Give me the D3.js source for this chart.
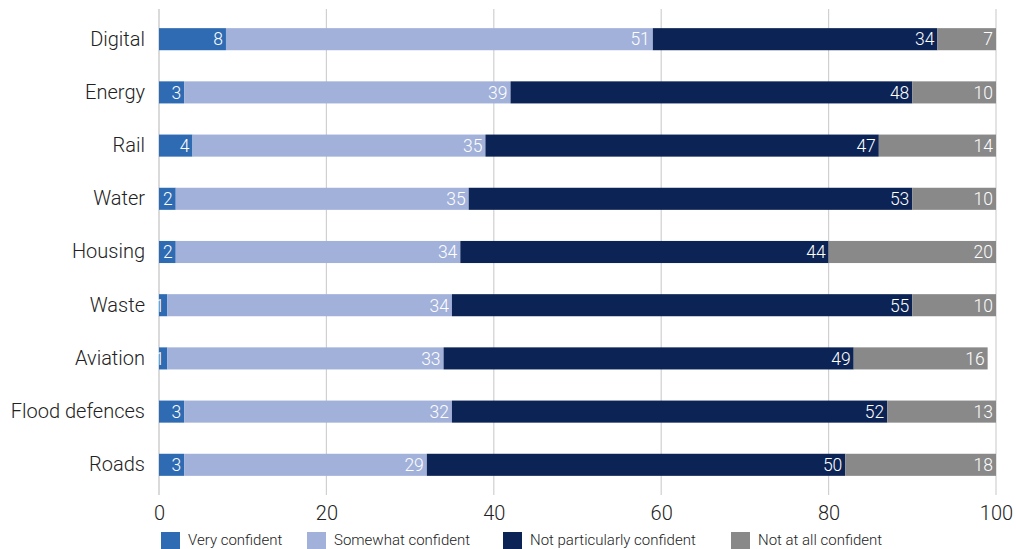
<!DOCTYPE html>
<html>
<head>
<meta charset="utf-8">
<script src="https://cdn.jsdelivr.net/npm/d3@7"></script>
<style>
  body { margin: 0; background: #fff; }
  svg { font-family: Roboto, "DejaVu Sans", sans-serif; font-weight: 300; }
</style>
</head>
<body>
<div id="chart"></div>
<script>
    'use strict';

    const categories = ['Digital', 'Energy', 'Rail', 'Water', 'Housing', 'Waste', 'Aviation', 'Flood defences', 'Roads'];
    const seriesNames = ['Very confident', 'Somewhat confident', 'Not particularly confident', 'Not at all confident'];
    const veryConfident = [8, 3, 4, 2, 2, 1, 1, 3, 3];
    const somewhatConfident = [51, 39, 35, 35, 34, 34, 33, 32, 29];
    const notParticularly = [34, 48, 47, 53, 44, 55, 49, 52, 50];
    const notAtAll = [7, 10, 14, 10, 20, 10, 16, 13, 18];
    const xTicks = [0, 20, 40, 60, 80, 100];
    const colors = ['#2e6bb3', '#a2b1da', '#0c2355', '#898989'];

    const W = 1016, H = 549;
    const margin = { top: 9, right: 20, bottom: 54, left: 159 };
    const width = W - margin.left - margin.right;
    const height = H - margin.top - margin.bottom;

    const rows = categories.map(function (c, i) {
        return { cat: c, 0: veryConfident[i], 1: somewhatConfident[i], 2: notParticularly[i], 3: notAtAll[i] };
    });
    const stack = d3.stack().keys([0, 1, 2, 3]);
    const layers = stack(rows);

    const xScale = d3.scaleLinear().domain([0, 100]).range([0, 837]);
    const yScale = d3.scaleBand().domain(categories).range([0, height]).paddingInner(0.585).paddingOuter(0.36);

    const svg = d3.select('#chart').append('svg').attr('width', W).attr('height', H)
        .append('g')
        .attr('transform', 'translate(' + margin.left + ',' + margin.top + ')');

    // gridlines
    svg.append('g').selectAll('line').data(xTicks).enter().append('line')
        .attr('x1', function (d) { return xScale(d); })
        .attr('x2', function (d) { return xScale(d); })
        .attr('y1', 0).attr('y2', height)
        .attr('stroke', function (d) { return d === 0 ? '#dadada' : '#d0d0d0'; })
        .attr('stroke-width', function (d) { return d === 0 ? 2 : 1.2; });

    const layerG = svg.selectAll('.layer').data(layers).enter().append('g')
        .attr('class', 'layer')
        .attr('fill', function (d, i) { return colors[i]; });

    layerG.selectAll('rect').data(function (d) { return d; }).enter().append('rect')
        .attr('x', function (d) { return xScale(d[0]); })
        .attr('y', function (d) { return yScale(d.data.cat); })
        .attr('width', function (d) { return xScale(d[1]) - xScale(d[0]); })
        .attr('height', yScale.bandwidth());

    layers.forEach(function (layer, li) {
        svg.append('g').selectAll('text').data(layer).enter().append('text')
            .attr('x', function (d) { return xScale(d[1]) - 3; })
            .attr('y', function (d) { return yScale(d.data.cat) + yScale.bandwidth() / 2; })
            .attr('dy', '0.36em')
            .attr('text-anchor', 'end')
            .attr('fill', '#fff')
            .style('font-size', '17.5px')
            .text(function (d) { return d.data[li]; });
    });

    // category labels
    const yAxis = d3.axisLeft(yScale).tickSize(0).tickPadding(14);
    const yg = svg.append('g').call(yAxis);
    yg.select('.domain').remove();
    yg.selectAll('text').style('font-size', '20px').attr('fill', '#222').style('font-family', 'Roboto, sans-serif');

    // x axis
    const xAxis = d3.axisBottom(xScale).tickValues(xTicks).tickSize(0).tickPadding(11);
    const xg = svg.append('g').attr('transform', 'translate(0,' + height + ')').call(xAxis);
    xg.select('.domain').remove();
    xg.selectAll('text').style('font-size', '20px').attr('fill', '#222').style('font-family', 'Roboto, sans-serif');

    // legend
    const legendX = [161, 307, 503, 731];
    const legend = d3.select('svg').append('g').selectAll('g').data(seriesNames).enter().append('g')
        .attr('transform', function (d, i) { return 'translate(' + legendX[i] + ',532)'; });
    legend.append('rect').attr('width', 19).attr('height', 17)
        .attr('fill', function (d, i) { return colors[i]; });
    legend.append('text').attr('x', 27).attr('y', 13)
        .style('font-size', '15px').attr('fill', '#222')
        .text(function (d) { return d; });
</script>
</body>
</html>
